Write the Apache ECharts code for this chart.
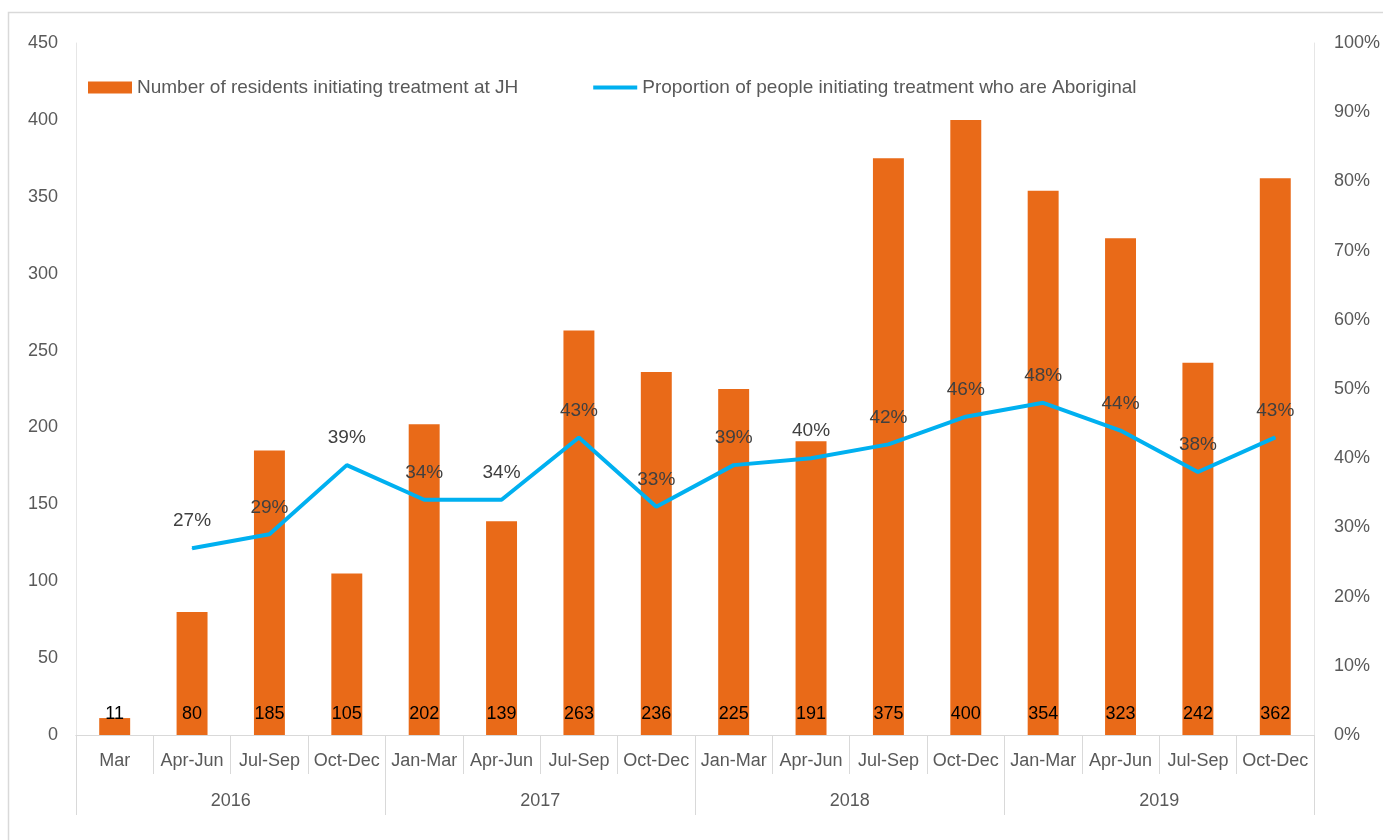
<!DOCTYPE html>
<html>
<head>
<meta charset="utf-8">
<script src="https://cdn.jsdelivr.net/npm/echarts@6/dist/echarts.min.js"></script>
<style>
  html, body { margin: 0; padding: 0; background: #fff; }
  #main { width: 1383px; height: 840px; }
</style>
</head>
<body>
<div id="main"></div>
<script>
// chart data
var quarters = ['Mar', 'Apr-Jun', 'Jul-Sep', 'Oct-Dec',
                'Jan-Mar', 'Apr-Jun', 'Jul-Sep', 'Oct-Dec',
                'Jan-Mar', 'Apr-Jun', 'Jul-Sep', 'Oct-Dec',
                'Jan-Mar', 'Apr-Jun', 'Jul-Sep', 'Oct-Dec'];
var years = ['2016', '2017', '2018', '2019'];
var residents = [11, 80, 185, 105, 202, 139, 263, 236, 225, 191, 375, 400, 354, 323, 242, 362];
var aboriginalPct = [null, 27, 29, 39, 34, 34, 43, 33, 39, 40, 42, 46, 48, 44, 38, 43];

var barName = 'Number of residents initiating treatment at JH';
var lineName = 'Proportion of people initiating treatment who are Aboriginal';

var font = 'Liberation Sans';
var gray = '#595959';
var rule = '#d9d9d9';

var myChart = echarts.init(document.getElementById('main'));
myChart.setOption({
  animation: false,
  textStyle: { fontFamily: font },
  graphic: [
    {
      type: 'rect',
      shape: { x: 8.5, y: 12.5, width: 1400, height: 900 },
      style: { fill: 'none', stroke: rule, lineWidth: 1.5 },
      silent: true
    }
  ],
  grid: { left: 76, right: 65, top: 43, bottom: 105 },
  legend: {
    left: 83,
    top: 73,
    itemWidth: 44,
    itemHeight: 12,
    itemGap: 75,
    textStyle: { color: gray, fontSize: 19, fontFamily: font },
    data: [
      { name: barName, icon: 'rect' },
      { name: lineName, icon: 'path://M0,4 L44,4 L44,8 L0,8 Z' }
    ]
  },
  xAxis: [
    {
      type: 'category',
      gridIndex: 0,
      data: quarters,
      axisLine: { lineStyle: { color: rule, width: 1 } },
      axisTick: { show: true, interval: 0, length: 39, lineStyle: { color: rule } },
      axisLabel: { interval: 0, color: gray, fontSize: 18, margin: 17 }
    },
    {
      // year row: ticks run the full height of both label rows
      type: 'category',
      gridIndex: 0,
      data: years,
      position: 'bottom',
      offset: 0,
      axisLine: { show: true, lineStyle: { color: rule } },
      axisTick: { show: true, interval: 0, length: 80, lineStyle: { color: rule } },
      axisLabel: { interval: 0, color: gray, fontSize: 18, margin: 57 }
    }
  ],
  yAxis: [
    {
      type: 'value',
      min: 0,
      max: 450,
      interval: 50,
      axisLine: { show: true, lineStyle: { color: '#e6e6e6' } },
      axisTick: { show: false },
      splitLine: { show: false },
      axisLabel: { color: gray, fontSize: 18, margin: 18 }
    },
    {
      type: 'value',
      min: 0,
      max: 100,
      interval: 10,
      axisLine: { show: true, lineStyle: { color: '#e6e6e6' } },
      axisTick: { show: false },
      splitLine: { show: false },
      axisLabel: { color: gray, fontSize: 18, margin: 20, formatter: '{value}%' }
    }
  ],
  series: [
    {
      name: barName,
      type: 'bar',
      data: residents,
      barWidth: '40%',
      itemStyle: { color: '#E96A18' },
      label: {
        show: true,
        position: 'insideBottom',
        distance: 12,
        color: '#000',
        fontSize: 18
      }
    },
    {
      name: lineName,
      type: 'line',
      yAxisIndex: 1,
      data: aboriginalPct,
      symbol: 'circle',
      symbolSize: 1,
      showSymbol: true,
      connectNulls: false,
      lineStyle: { color: '#00B0F0', width: 4 },
      itemStyle: { color: '#00B0F0' },
      label: {
        show: true,
        position: 'top',
        distance: 17,
        color: '#404040',
        fontSize: 19,
        formatter: '{c}%'
      }
    }
  ]
});

window.addEventListener('resize', function () {
  myChart.resize();
});
</script>
</body>
</html>
